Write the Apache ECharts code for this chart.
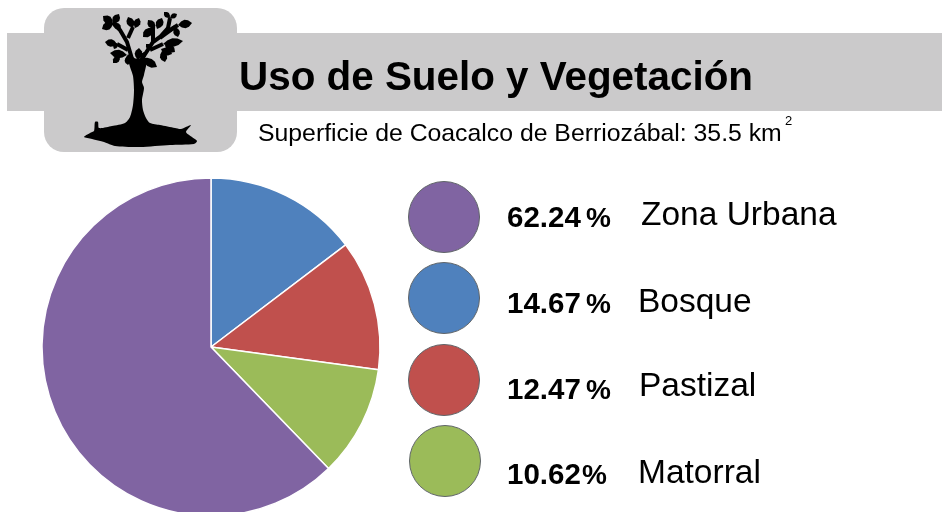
<!DOCTYPE html>
<html><head><meta charset="utf-8">
<style>html,body{margin:0;padding:0;background:#fff}#c{width:942px;height:512px}</style>
<script src="https://cdn.jsdelivr.net/npm/echarts@6/dist/echarts.min.js"></script>
</head><body><div id="c"></div>
<script>
const categories = ['Bosque','Pastizal','Matorral','Zona Urbana'];
const values = [14.67,12.47,10.62,62.24];
const colors = ['#4f81bd','#c0504d','#9bbb59','#8064a2'];
const legendOrder = ['Zona Urbana','Bosque','Pastizal','Matorral'];
const legendNumbers = ['62.24','14.67','12.47','10.62'];
const F = '"Liberation Sans", Arial, sans-serif';
const chart = echarts.init(document.getElementById('c'),null,{renderer:'canvas'});

// decorative tree icon: leaves as [tipX, tipY, baseX, baseY]
const leaves = [[103,16,113,24],[119,14,113,24],[102,29,113,23],[121,29,113,23],
 [128,17,133,28],[139,18,135,28],[148,20,155,29],[162,18,157,29],[143,37,153,28],
 [164,12,170,18],[177,14,170,18],[192,23,178,25],[178,37,175,27],
 [183,41,163,44],[175,52,165,45],[172,54,161,49],[165,62,162,51],
 [105,42,117,44],[114,49,117,43],[110,53,127,55],[113,63,120,56],[128,65,127,56],
 [157,67,142,58],[144,52,142,60],[139,48,138,60],[146,44,152,50]];
const tree = [[129,60],[146,60],[144,75],[142,82],[144,88],[142,100],[143,110],[146,118],[150,123],[160,125],[175,128],[181,129],[191,125],[186,132],[192,137],[197,141],[194,144],[170,145],[140,147],[115,146],[104,142],[92,139],[84,137],[90,133],[94,131],[95,122],[98,122],[99,128],[112,126],[125,123],[130,117],[133,105],[134,90],[133,76]];
const twigs = [
 [[113,23],[120,30],[127,42],[133,62]],
 [[133,27],[128,38]],[[117,44],[128,50]],[[127,56],[134,60]],
 [[140,62],[153,42],[160,37],[168,28],[170,18]],
 [[153,28],[153,42]],[[175,27],[160,38]],[[150,50],[163,44]],[[178,25],[170,30]]];
function leafPts(x1,y1,x2,y2){
  const dx=x2-x1,dy=y2-y1,l=Math.hypot(dx,dy),w=Math.min(l*0.32,4.2),nx=-dy/l,ny=dx/l;
  return [[0,0],[.25,.8],[.5,1],[.75,.7],[1,0],[.75,-.7],[.5,-1],[.25,-.8]].map(([u,v])=>[x1+u*dx+v*w*nx,y1+u*dy+v*w*ny]);
}
const graphic = [
 {type:'rect',shape:{x:7,y:33,width:935,height:78},style:{fill:'#cbcacb'},z:1},
 {type:'rect',shape:{x:44,y:8,width:193,height:144,r:20},style:{fill:'#cbcacb'},z:1},
 {type:'polygon',shape:{points:tree,smooth:0.25},style:{fill:'#000'},z:2},
 {type:'text',x:239,y:79,style:{text:'Uso de Suelo y Vegetación',font:'bold 40.4px '+F,fill:'#000',verticalAlign:'middle'},z:3},
 {type:'text',x:258,y:134.5,style:{text:'Superficie de Coacalco de Berriozábal: 35.5 km',font:'24.8px '+F,fill:'#000',verticalAlign:'middle'},z:3},
 {type:'text',x:785,y:115,style:{text:'2',font:'13px '+F,fill:'#000'},z:3}
];
twigs.forEach(t=>graphic.push({type:'polyline',shape:{points:t},style:{fill:null,stroke:'#000',lineWidth:4},z:2}));
leaves.forEach(l=>graphic.push({type:'polygon',shape:{points:leafPts(...l)},style:{fill:'#000'},z:2}));
const cy=[217,298,380,461], cx=[444,444,444,445], tx=[641,638,639,638], ty=[216,303,387,474], py=[219,305,391,476], pctX=[586,586,586,582];
legendOrder.forEach((name,i)=>{
  const col=colors[categories.indexOf(name)];
  graphic.push({type:'circle',shape:{cx:cx[i],cy:cy[i],r:35.5},style:{fill:col,stroke:'#5f6468',lineWidth:1},z:3});
  graphic.push({type:'text',x:507,y:py[i],style:{text:legendNumbers[i],font:'bold 29.5px '+F,fill:'#000',verticalAlign:'middle'},z:3});
  graphic.push({type:'text',x:pctX[i],y:py[i],style:{text:'%',font:'bold 28px '+F,fill:'#000',verticalAlign:'middle'},z:3});
  graphic.push({type:'text',x:tx[i],y:ty[i],style:{text:name,font:'33.5px '+F,fill:'#000',verticalAlign:'middle'},z:3});
});
chart.setOption({
 animation:false,
 series:[{type:'pie',center:[211,347],radius:[0,169],startAngle:90,clockwise:true,
  label:{show:false},labelLine:{show:false},silent:true,
  itemStyle:{borderColor:'#fff',borderWidth:1.5},
  data:categories.map((n,i)=>({name:n,value:values[i],itemStyle:{color:colors[i]}}))}],
 graphic:{elements:graphic}
});
</script></body></html>
